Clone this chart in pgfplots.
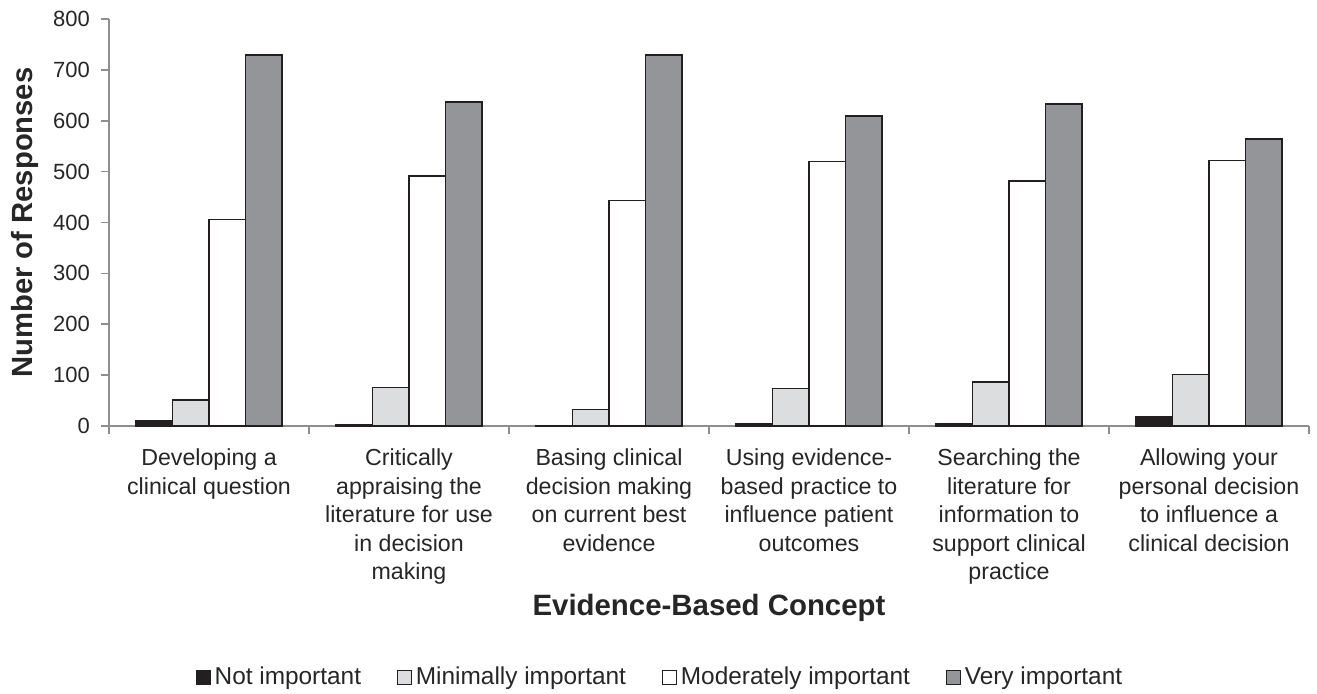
\documentclass[border=0pt]{standalone}
\usepackage{fontspec}
\setmainfont{Liberation Sans}
\usepackage{pgfplots}
\pgfplotsset{compat=1.18}
\definecolor{cnot}{HTML}{231F20}
\definecolor{cmin}{HTML}{DCDDDE}
\definecolor{cmod}{HTML}{FFFFFF}
\definecolor{cvery}{HTML}{939598}
\definecolor{axgray}{HTML}{8E8E8E}
\definecolor{edge}{HTML}{231F20}
\pgfplotstableread{
x not min mod very
0 10 51 406 729
1 1.5 76 491 637
2 0.8 32 443 729
3 4 74 520 609
4 4.5 87 482 633
5 19 101 522 564
}\datatable
\begin{document}
\begin{tikzpicture}
\useasboundingbox (0,0) rectangle (658.5pt,346.5pt);
\begin{axis}[
  name=ax,
  at={(54.5pt,133.5pt)}, anchor=south west,
  scale only axis, width=600pt, height=203.5pt,
  xmin=-0.5, xmax=5.5, ymin=0, ymax=800,
  axis lines=left,
  axis line style={-, draw=axgray, line width=0.8pt},
  ybar, bar width=0.1825,
  ytick={0,100,...,800},
  xtick={0,...,5},
  xticklabels={
    {Developing a\\clinical question},
    {Critically\\appraising the\\literature for use\\in decision\\making},
    {Basing clinical\\decision making\\on current best\\evidence},
    {Using evidence-\\based practice to\\influence patient\\outcomes},
    {Searching the\\literature for\\information to\\support clinical\\practice},
    {Allowing your\\personal decision\\to influence a\\clinical decision}},
  minor xtick={-0.5,0.5,...,5.5},
  tick align=outside,
  major tick length=4pt, minor tick length=4pt,
  major x tick style={draw=none},
  minor x tick style={draw=axgray, line width=0.8pt},
  y tick style={draw=axgray, line width=0.8pt},
  /pgf/number format/assume math mode=true,
  yticklabel style={font=\fontsize{11}{13}\selectfont, text=black!85, xshift=-2pt},
  xticklabel style={font=\fontsize{11.6}{14.2}\selectfont, align=center, text=black!85, anchor=north, yshift=-4pt},
  xlabel={Evidence-Based Concept},
  xlabel style={at={(axis description cs:0.5,-0.447)}, anchor=center, font=\fontsize{14.7}{17}\selectfont\bfseries, text=black!85},
  legend columns=4,
  legend style={at={(0.46,-0.618)}, anchor=center, draw=none, fill=none,
    font=\fontsize{12.2}{14}\selectfont, text=black!85,
    /tikz/every even column/.append style={column sep=16pt}},
  legend image code/.code={\draw[#1, draw=edge, line width=0.6pt] (0pt,-3.4pt) rectangle (6.8pt,3.4pt);},
  every axis plot/.append style={draw=edge, line width=0.75pt},
]
\addplot[fill=cnot, bar shift=-0.27375] table[x=x,y=not]{\datatable};
\addplot[fill=cmin, bar shift=-0.09125] table[x=x,y=min]{\datatable};
\addplot[fill=cmod, bar shift=0.09125] table[x=x,y=mod]{\datatable};
\addplot[fill=cvery, bar shift=0.27375] table[x=x,y=very]{\datatable};
\legend{Not important, Minimally important, Moderately important, Very important}
\end{axis}
\node[rotate=90, anchor=south, inner sep=0pt, font=\fontsize{14.6}{17}\selectfont\bfseries, text=black!85]
  at ([xshift=-35pt]ax.west) {Number of Responses};
\end{tikzpicture}
\end{document}
